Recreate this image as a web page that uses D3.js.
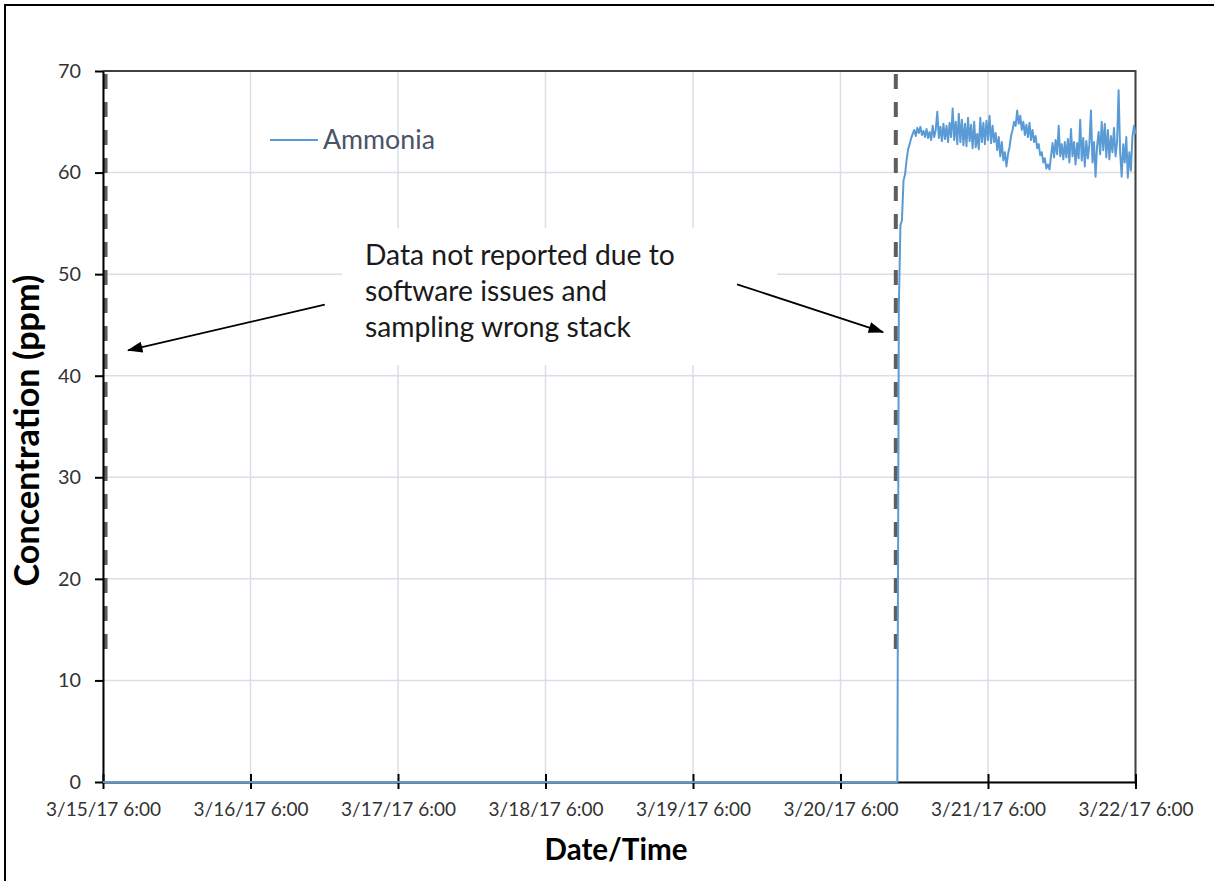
<!DOCTYPE html>
<html><head><meta charset="utf-8">
<script src="https://cdn.jsdelivr.net/npm/d3@7"></script>
<style>body{margin:0;background:#fff}svg{display:block}</style>
</head><body>
<svg id="chart" width="1214" height="881"></svg>
<script>
// ---------------- data ----------------
const xTickLabels = ["3/15/17 6:00","3/16/17 6:00","3/17/17 6:00","3/18/17 6:00","3/19/17 6:00","3/20/17 6:00","3/21/17 6:00","3/22/17 6:00"];
const yTicks = [0,10,20,30,40,50,60,70];
const seriesName = "Ammonia";
const xTitle = "Date/Time";
const yTitle = "Concentration (ppm)";
const annotationLines = ["Data not reported due to","software issues and","sampling wrong stack"];

const sampleTimes = [
"3/15/17 6:00",
"3/20/17 15:15","3/20/17 15:30","3/20/17 15:45",
"3/20/17 16:00","3/20/17 16:15","3/20/17 16:30","3/20/17 16:45",
"3/20/17 17:00","3/20/17 17:15","3/20/17 17:30","3/20/17 17:45",
"3/20/17 18:00","3/20/17 18:15","3/20/17 18:30","3/20/17 18:45",
"3/20/17 19:00","3/20/17 19:15","3/20/17 19:30","3/20/17 19:45",
"3/20/17 20:00","3/20/17 20:15","3/20/17 20:30","3/20/17 20:45",
"3/20/17 21:00","3/20/17 21:15","3/20/17 21:30","3/20/17 21:45",
"3/20/17 22:00","3/20/17 22:15","3/20/17 22:30","3/20/17 22:45",
"3/20/17 23:00","3/20/17 23:15","3/20/17 23:30","3/20/17 23:45",
"3/21/17 0:00","3/21/17 0:15","3/21/17 0:30","3/21/17 0:45",
"3/21/17 1:00","3/21/17 1:15","3/21/17 1:30","3/21/17 1:45",
"3/21/17 2:00","3/21/17 2:15","3/21/17 2:30","3/21/17 2:45",
"3/21/17 3:00","3/21/17 3:15","3/21/17 3:30","3/21/17 3:45",
"3/21/17 4:00","3/21/17 4:15","3/21/17 4:30","3/21/17 4:45",
"3/21/17 5:00","3/21/17 5:15","3/21/17 5:30","3/21/17 5:45",
"3/21/17 6:00","3/21/17 6:15","3/21/17 6:30","3/21/17 6:45",
"3/21/17 7:00","3/21/17 7:15","3/21/17 7:30","3/21/17 7:45",
"3/21/17 8:00","3/21/17 8:15","3/21/17 8:30","3/21/17 8:45",
"3/21/17 9:00","3/21/17 9:15","3/21/17 9:30","3/21/17 9:45",
"3/21/17 10:00","3/21/17 10:15","3/21/17 10:30","3/21/17 10:45",
"3/21/17 11:00","3/21/17 11:15","3/21/17 11:30","3/21/17 11:45",
"3/21/17 12:00","3/21/17 12:15","3/21/17 12:30","3/21/17 12:45",
"3/21/17 13:00","3/21/17 13:15","3/21/17 13:30","3/21/17 13:45",
"3/21/17 14:00","3/21/17 14:15","3/21/17 14:30","3/21/17 14:45",
"3/21/17 15:00","3/21/17 15:15","3/21/17 15:30","3/21/17 15:45",
"3/21/17 16:00","3/21/17 16:15","3/21/17 16:30","3/21/17 16:45",
"3/21/17 17:00","3/21/17 17:15","3/21/17 17:30","3/21/17 17:45",
"3/21/17 18:00","3/21/17 18:15","3/21/17 18:30","3/21/17 18:45",
"3/21/17 19:00","3/21/17 19:15","3/21/17 19:30","3/21/17 19:45",
"3/21/17 20:00","3/21/17 20:15","3/21/17 20:30","3/21/17 20:45",
"3/21/17 21:00","3/21/17 21:15","3/21/17 21:30","3/21/17 21:45",
"3/21/17 22:00","3/21/17 22:15","3/21/17 22:30","3/21/17 22:45",
"3/21/17 23:00","3/21/17 23:15","3/21/17 23:30","3/21/17 23:45",
"3/22/17 0:00","3/22/17 0:15","3/22/17 0:30","3/22/17 0:45",
"3/22/17 1:00","3/22/17 1:15","3/22/17 1:30","3/22/17 1:45",
"3/22/17 2:00","3/22/17 2:15","3/22/17 2:30","3/22/17 2:45",
"3/22/17 3:00","3/22/17 3:15","3/22/17 3:30","3/22/17 3:45",
"3/22/17 4:00","3/22/17 4:15","3/22/17 4:30","3/22/17 4:45",
"3/22/17 5:00","3/22/17 5:15","3/22/17 5:30","3/22/17 5:45",
"3/22/17 6:00"
];

const ammoniaPpm = [
0,
0, 47.0, 54.8,
55.3, 59.2, 59.8, 61.2,
62.3, 62.8, 63.4, 63.8,
64.2, 63.6, 64.4, 63.9,
64.5, 63.7, 64.1, 63.5,
64.3, 63.4, 64.0, 63.2,
64.6, 63.5, 64.2, 66.0,
63.4, 64.5, 63.1, 64.8,
63.3, 64.6, 63.0, 64.9,
63.5, 66.3, 63.2, 65.0,
62.8, 65.8, 63.0, 65.2,
62.7, 64.8, 62.6, 65.4,
63.1, 64.7, 62.4, 65.0,
62.5, 63.8, 62.3, 65.4,
63.0, 64.9, 62.8, 65.1,
63.2, 65.6, 62.9, 64.6,
63.0, 63.9, 62.2, 63.5,
61.6, 63.0, 61.2, 62.0,
60.6, 61.8, 62.5, 63.6,
64.2, 65.0, 64.6, 66.1,
64.8, 65.6, 64.2, 65.0,
63.7, 64.7, 63.5, 64.9,
63.2, 64.2, 63.0, 63.6,
62.4, 62.8, 61.7, 62.0,
61.0, 61.4, 60.4, 60.8,
60.3, 61.6, 62.9, 61.5,
63.2, 61.8, 64.6, 61.6,
62.8, 61.3, 63.0, 61.5,
63.3, 61.0, 64.3, 61.6,
63.0, 60.8, 62.9, 61.4,
65.2, 61.2, 63.4, 60.6,
63.1, 61.4, 62.8, 66.1,
61.0, 63.0, 59.6, 62.6,
64.0, 61.8, 65.0, 62.2,
64.8, 61.5, 64.2, 61.3,
63.6, 62.0, 64.4, 61.6,
63.0, 68.1, 62.0, 59.6,
62.8, 61.0, 63.5, 59.5,
62.0, 60.2, 63.5, 64.6,
63.8
];

// dashed "gap" markers: time, and value range they span
const gapMarkerTimes = ["3/15/17 6:25","3/20/17 15:00"];
const gapMarkerRange = [12.9, 70];
// annotation arrows: [time, value] start and tip
const arrowStarts = [["3/16/17 18:05", 47.0], ["3/19/17 13:10", 49.0]];
const arrowTips   = [["3/15/17 10:05", 42.5], ["3/20/17 12:55", 44.3]];

// ---------------- drawing ----------------
const parse = d3.timeParse("%m/%d/%y %H:%M");
const W = 1214, H = 881;
const svg = d3.select("#chart");
const FONT = "Lato, 'Open Sans', sans-serif";

const x = d3.scaleTime()
  .domain([parse(xTickLabels[0]), parse(xTickLabels[xTickLabels.length-1])])
  .range([103, 1135.5]);
const y = d3.scaleLinear().domain([0, 70]).range([782, 71]);

const data = sampleTimes.map((t, i) => ({t: parse(t), v: ammoniaPpm[i]}));

// outer frame
svg.append("rect").attr("x", 5).attr("y", 5).attr("width", W + 10).attr("height", H + 10)
  .attr("fill", "#fff").attr("stroke", "#000").attr("stroke-width", 2);

// gridlines
const grid = svg.append("g").attr("stroke", "#d9dee7").attr("stroke-width", 1.5);
grid.selectAll("line.h").data(yTicks).join("line")
  .attr("x1", x.range()[0]).attr("x2", x.range()[1])
  .attr("y1", d => y(d)).attr("y2", d => y(d));
grid.selectAll("line.v").data(xTickLabels).join("line")
  .attr("x1", d => x(parse(d))).attr("x2", d => x(parse(d)))
  .attr("y1", y(0)).attr("y2", y(70));

// plot frame top/right
svg.append("path")
  .attr("d", `M${x.range()[0]},${y(70)}H${x.range()[1]}V${y(0)}`)
  .attr("fill", "none").attr("stroke", "#404040").attr("stroke-width", 2);

// annotation white box (hides gridlines)
svg.append("rect").attr("x", 342).attr("y", 228).attr("width", 435).attr("height", 137).attr("fill", "#fff");

// dashed gap markers
svg.append("g").selectAll("line").data(gapMarkerTimes).join("line")
  .attr("x1", d => x(parse(d))).attr("x2", d => x(parse(d)))
  .attr("y1", y(gapMarkerRange[1]) + 3).attr("y2", y(gapMarkerRange[0]))
  .attr("stroke", "#5f5f5f").attr("stroke-width", 4).attr("stroke-dasharray", "15,13");

// axes
const xAxis = d3.axisBottom(x)
  .tickValues(xTickLabels.map(parse))
  .tickFormat((d, i) => xTickLabels[i])
  .tickSizeInner(7).tickSizeOuter(0).tickPadding(20);
const gx = svg.append("g").attr("transform", `translate(0,${y(0)})`).call(xAxis);
gx.select(".domain").attr("stroke", "#000").attr("stroke-width", 2);
gx.selectAll(".tick line").attr("y1", -8).attr("stroke", "#000").attr("stroke-width", 2);
gx.selectAll(".tick text").attr("font-family", FONT).attr("font-size", 20).attr("fill", "#333");

const yAxis = d3.axisLeft(y).tickValues(yTicks).tickSizeInner(8).tickSizeOuter(0).tickPadding(14);
const gy = svg.append("g").attr("transform", `translate(${x.range()[0]},0)`).call(yAxis);
gy.select(".domain").attr("stroke", "#000").attr("stroke-width", 2);
gy.selectAll(".tick line").attr("stroke", "#000").attr("stroke-width", 2);
gy.selectAll(".tick text").attr("font-family", FONT).attr("font-size", 21).attr("fill", "#333");

// fit helper
function fitWidth(sel, target) {
  const w = sel.node().getComputedTextLength();
  const fs = parseFloat(sel.attr("font-size"));
  const nf = fs * target / w;
  sel.attr("font-size", nf);
  return nf;
}
// fit tick label sizes
{
  const first = gx.select(".tick text");
  const nf = fitWidth(first, 115);
  gx.selectAll(".tick text").attr("font-size", nf).attr("dy", "0");
  gx.selectAll(".tick text").attr("y", 816 - y(0));
  const t70 = gy.selectAll(".tick text").filter(d => d === 70);
  const nf2 = fitWidth(t70, 23);
  gy.selectAll(".tick text").attr("font-size", nf2);
}

// series line
const line = d3.line().x(d => x(d.t)).y(d => y(d.v));
svg.append("path").datum(data).attr("d", line)
  .attr("fill", "none").attr("stroke", "#5b9bd5").attr("stroke-width", 2).attr("stroke-linejoin", "round");

// legend
svg.append("line").attr("x1", 270).attr("x2", 318).attr("y1", 140).attr("y2", 140)
  .attr("stroke", "#5b9bd5").attr("stroke-width", 2);
const lg = svg.append("text").attr("x", 323).attr("y", 149).attr("font-family", FONT)
  .attr("font-size", 24).attr("fill", "#4a5466").text(seriesName);
fitWidth(lg, 112);

// annotation text
const ann = svg.append("g").attr("font-family", FONT).attr("fill", "#1a1a1a");
const annT = ann.selectAll("text").data(annotationLines).join("text")
  .attr("x", 365).attr("y", (d, i) => 265 + i * 36).attr("font-size", 26).text(d => d);
const annFs = fitWidth(d3.select(annT.nodes()[0]), 310);
annT.attr("font-size", annFs);

// arrows
const defs = svg.append("defs");
defs.append("marker").attr("id", "arrow").attr("viewBox", "0 0 14 10")
  .attr("refX", 13).attr("refY", 5).attr("markerWidth", 16).attr("markerHeight", 11)
  .attr("markerUnits", "userSpaceOnUse").attr("orient", "auto")
  .append("path").attr("d", "M0,0L14,5L0,10Z").attr("fill", "#000");
svg.append("g").selectAll("line").data(arrowStarts).join("line")
  .attr("x1", d => x(parse(d[0]))).attr("y1", d => y(d[1]))
  .attr("x2", (d, i) => x(parse(arrowTips[i][0]))).attr("y2", (d, i) => y(arrowTips[i][1]))
  .attr("stroke", "#000").attr("stroke-width", 1.8).attr("marker-end", "url(#arrow)");

// axis titles
const xt = svg.append("text").attr("x", 616).attr("y", 860).attr("text-anchor", "middle")
  .attr("font-family", FONT).attr("font-weight", "bold").attr("font-size", 28).attr("fill", "#000").text(xTitle);
fitWidth(xt, 143);
const yt = svg.append("text").attr("transform", `translate(39,${(y(0) + y(70)) / 2 + 4}) rotate(-90)`)
  .attr("text-anchor", "middle").attr("font-family", FONT).attr("font-weight", "bold")
  .attr("font-size", 28).attr("fill", "#000").text(yTitle);
fitWidth(yt, 312);
</script>
</body></html>
